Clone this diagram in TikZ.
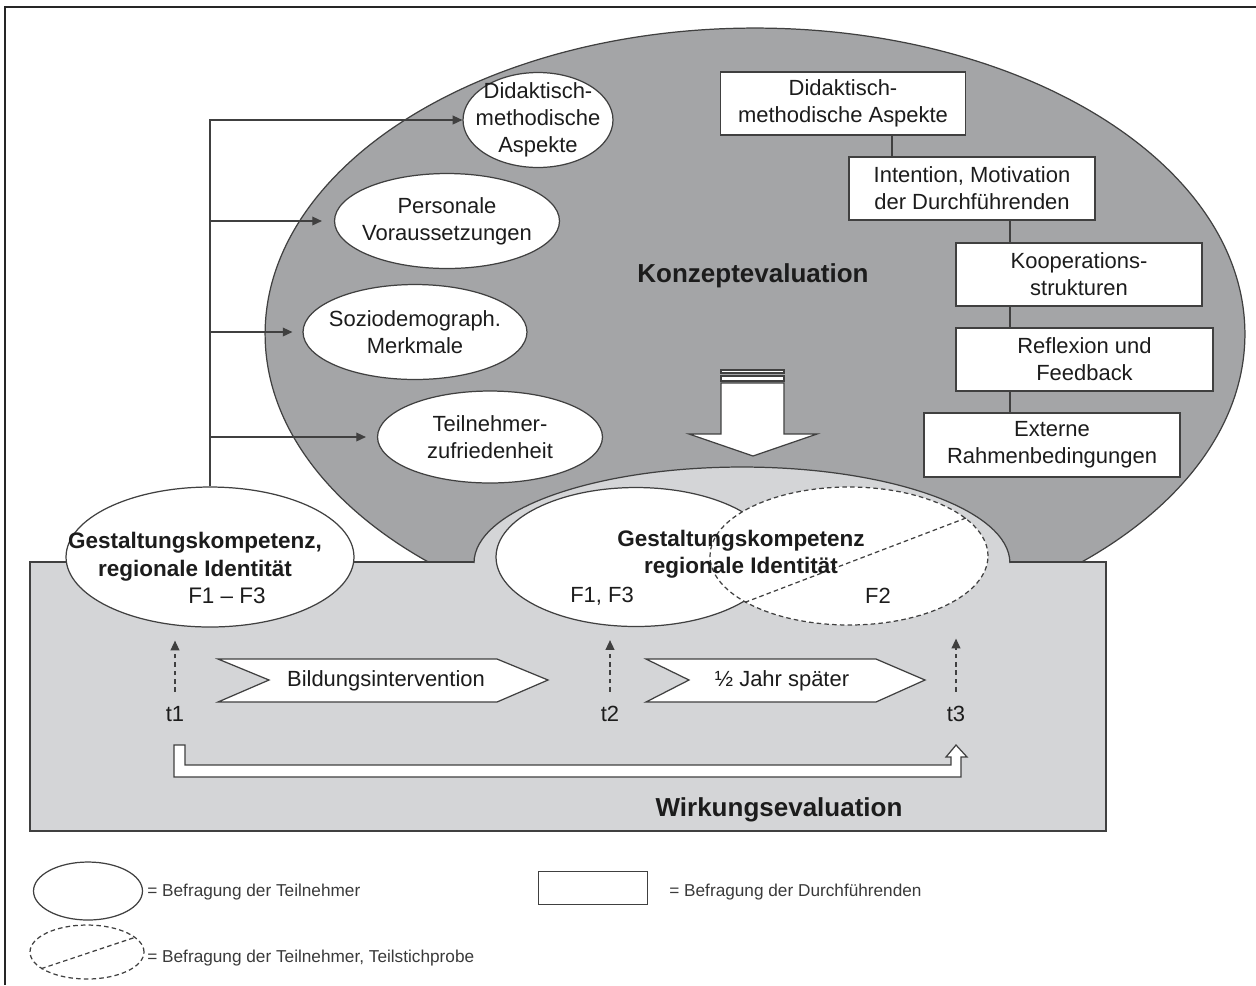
\documentclass[tikz,border=0pt]{standalone}
\usepackage{fontspec}
\setmainfont{Liberation Sans}
\usetikzlibrary{arrows.meta,shapes.geometric}

\definecolor{konzgray}{HTML}{A4A5A7}
\definecolor{wirkgray}{HTML}{D4D5D7}
\definecolor{linegray}{HTML}{404040}
\definecolor{inkgray}{HTML}{1C1C1C}
\definecolor{leggray}{HTML}{3A3A3A}

\newcommand{\fnorm}{\fontsize{12.5}{15.4}\selectfont}
\newcommand{\fgk}{\fontsize{12.8}{15.6}\selectfont}
\newcommand{\ftitle}{\fontsize{14.8}{17}\selectfont\bfseries}
\newcommand{\fleg}{\fontsize{9.8}{12}\selectfont}

\tikzset{
  ell/.style={ellipse, draw=linegray, fill=white, line width=0.7pt, inner xsep=-0.5cm, inner ysep=-0.25cm, align=center, text=inkgray, font=\fnorm},
  dashell/.style={ell, dash pattern=on 2.6pt off 1.8pt},
  box/.style={rectangle, draw=linegray, fill=white, line width=0.7pt, inner sep=0pt, align=center, text=inkgray, font=\fnorm},
  lbl/.style={inner sep=0pt, align=center, text=inkgray, font=\fnorm},
  conn/.style={draw=linegray, line width=0.7pt},
  arr/.style={conn, -{Triangle[length=5.5pt,width=5pt]}},
  tarr/.style={arr, dash pattern=on 2.6pt off 2.2pt},
  hollow/.style={draw=linegray, fill=white, line width=0.7pt, line join=miter},
  legtxt/.style={inner sep=0pt, anchor=west, text=leggray, font=\fleg},
}

\begin{document}
\begin{tikzpicture}[x=0.02cm, y=-0.02cm]
\useasboundingbox (0,0) rectangle (1256,985);

% Konzeptevaluation and Wirkungsevaluation
\node[ellipse, draw=linegray, fill=konzgray, line width=0.7pt, minimum width=19.6cm, minimum height=12.24cm] (konzept) at (755,334) {};
\node[rectangle, draw=linegray, fill=wirkgray, line width=0.7pt, minimum width=21.52cm, minimum height=5.38cm] (wirkung) at (568,696.5) {};
\draw[conn, fill=wirkgray] (474,563) arc[start angle=180, end angle=0, x radius=5.36cm, y radius=1.92cm];
\node[lbl, font=\ftitle] (ktitle) at (753,276) {Konzeptevaluation};
\node[lbl, font=\ftitle] (wtitle) at (779,810) {Wirkungsevaluation};

% participants
\node[ell, minimum width=3cm, minimum height=1.9cm] (dma) at (538,120) {Didaktisch-\\methodische\\Aspekte};
\node[ell, minimum width=4.5cm, minimum height=1.9cm] (pv) at (447,221) {Personale\\Voraussetzungen};
\node[ell, minimum width=4.48cm, minimum height=1.9cm] (sdm) at (415,332) {Soziodemograph.\\Merkmale};
\node[ell, minimum width=4.5cm, minimum height=1.84cm] (tz) at (490,437) {Teilnehmer-\\zufriedenheit};

% organisers
\node[box, minimum width=4.9cm, minimum height=1.26cm] (b1) at (843,103.5) {Didaktisch-\\methodische Aspekte};
\node[box, minimum width=4.92cm, minimum height=1.26cm] (b2) at (972,188.5) {Intention, Motivation\\der Durchführenden};
\node[box, minimum width=4.92cm, minimum height=1.26cm] (b3) at (1079,274.5) {Kooperations-\\strukturen};
\node[box, minimum width=5.14cm, minimum height=1.26cm] (b4) at (1084.5,359.5) {Reflexion und\\Feedback};
\node[box, minimum width=5.12cm, minimum height=1.28cm] (b5) at (1052,445) {Externe\\Rahmenbedingungen};
\draw[conn] ([xshift=0.98cm]b1.south) -- ([xshift=0.98cm]b1.south |- b2.north);
\coordinate (spine) at ([xshift=0.76cm]b2.south);
\draw[conn] (spine) -- (spine |- b3.north);
\draw[conn] (spine |- b3.south) -- (spine |- b4.north);
\draw[conn] (spine |- b4.south) -- (spine |- b5.north);

% big arrow down
\draw[hollow] (721,383) -- (784,383) -- (784,434) -- (817,434) -- (753,456) -- (689,434) -- (721,434) -- cycle;
\draw[hollow] (721,370) rectangle (784,373);
\draw[hollow] (721,376) rectangle (784,381);

% t1
\node[ell, minimum width=5.76cm, minimum height=2.8cm] (gk1) at (210,557) {};
\node[lbl, font=\fgk] (gk1txt) at (195,568) {\textbf{Gestaltungskompetenz,}\\\textbf{regionale Identität}\\\hspace*{1.28cm}F1 – F3};
\draw[arr] (gk1.north) |- (dma.west);
\draw[arr, shorten >=0.24cm] (gk1.north |- pv.west) -- (pv.west);
\draw[arr, shorten >=0.2cm] (gk1.north |- sdm.west) -- (sdm.west);
\draw[arr, shorten >=0.22cm] (gk1.north |- tz.west) -- (tz.west);

% t2, t3
\node[ell, minimum width=5.6cm, minimum height=2.78cm] (gk2) at (636,557) {};
\node[dashell, minimum width=5.56cm, minimum height=2.76cm] (gk3) at (849,556) {};
\draw[conn, dash pattern=on 2.6pt off 1.8pt] (gk3.204) -- (gk3.18);
\node[lbl, font=\fgk\bfseries] (gk2txt) at (741,554) {Gestaltungskompetenz\\regionale Identität};
\node[lbl] (f13) at (602,596) {F1, F3};
\node[lbl] (f2) at (878,596) {F2};

% time line
\node[lbl] (t1) at (175,714) {t1};
\node[lbl] (t2) at (610,714) {t2};
\node[lbl] (t3) at (956,714) {t3};
\draw[tarr, shorten <=0.28cm, shorten >=0.26cm] (t1.north) -- (t1.north |- gk1.south);
\draw[tarr, shorten <=0.28cm, shorten >=0.26cm] (t2.north) -- (t2.north |- gk2.south);
\draw[tarr, shorten <=0.28cm, shorten >=0.26cm] (t3.north) -- (t3.north |- gk3.south);
\draw[hollow] (218,659) -- (497,659) -- (548,680) -- (497,702) -- (218,702) -- (269,680) -- cycle;
\node[lbl] (bildung) at (386,681) {Bildungsintervention};
\draw[hollow] (646,659) -- (876,659) -- (925,680) -- (876,702) -- (646,702) -- (689,680) -- cycle;
\node[lbl] (halbjahr) at (782,681) {½ Jahr später};
\draw[hollow] (174,745) -- (185,745) -- (185,765) -- (951,765) -- (951,757) -- (946,757) -- (956,745) -- (967,757) -- (961,757) -- (961,777) -- (174,777) -- cycle;

% legend
\node[ell, minimum width=2.18cm, minimum height=1.16cm] (legell) at (88,891) {};
\node[legtxt] (legelltxt) at (147,892) {= Befragung der Teilnehmer};
\node[box, minimum width=2.18cm, minimum height=0.66cm] (legbox) at (593,888) {};
\node[legtxt] (legboxtxt) at (669,892) {= Befragung der Durchführenden};
\node[dashell, minimum width=2.28cm, minimum height=1.08cm] (legdash) at (87,952) {};
\draw[conn, dash pattern=on 2.6pt off 1.8pt] (legdash.200) -- (legdash.17);
\node[legtxt] (legdashtxt) at (147,958) {= Befragung der Teilnehmer, Teilstichprobe};

\draw[line width=1.6pt, draw=black!85] (5,985) -- (5,7) -- (1256,7);
\end{tikzpicture}
\end{document}
